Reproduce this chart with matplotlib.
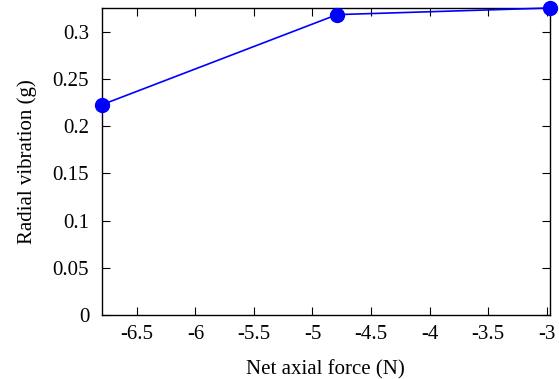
import matplotlib.pyplot as plt

# dane
sila = [-6.8, -4.79, -2.972]
drgania = [0.2225, 0.318, 0.325]
xticks = [-6.5, -6, -5.5, -5, -4.5, -4, -3.5, -3]
yticks = [0, 0.05, 0.1, 0.15, 0.2, 0.25, 0.3]

plt.rcParams['font.family'] = ['Liberation Serif', 'DejaVu Serif']

fig = plt.figure(figsize=(5.59, 3.79), dpi=100)
ax = fig.add_axes([101.7/559, 1 - 315/379, (550-101.7)/559, (315-8)/379])

ax.plot(sila, drgania, color='#0000ff', lw=1.2, marker='o', ms=10, clip_on=False, zorder=3)

ax.set_xlim(sila[0], sila[-1])
ax.set_ylim(0, drgania[-1])
ax.set_xticks(xticks)
ax.set_xticklabels([f'{t:g}' for t in xticks])
ax.set_yticks(yticks)
ax.set_yticklabels([f'{t:g}' for t in yticks])
ax.tick_params(direction='in', top=True, right=True, length=6, labelsize=15)
ax.tick_params(axis='x', pad=7)
ax.tick_params(axis='y', pad=9)
ax.set_xlabel('Net axial force (N)', fontsize=15, labelpad=12)
ax.set_ylabel('Radial vibration (g)', fontsize=15, labelpad=11)
for s in ax.spines.values():
    s.set_linewidth(1.0)

fig.savefig('out.png', dpi=100)
